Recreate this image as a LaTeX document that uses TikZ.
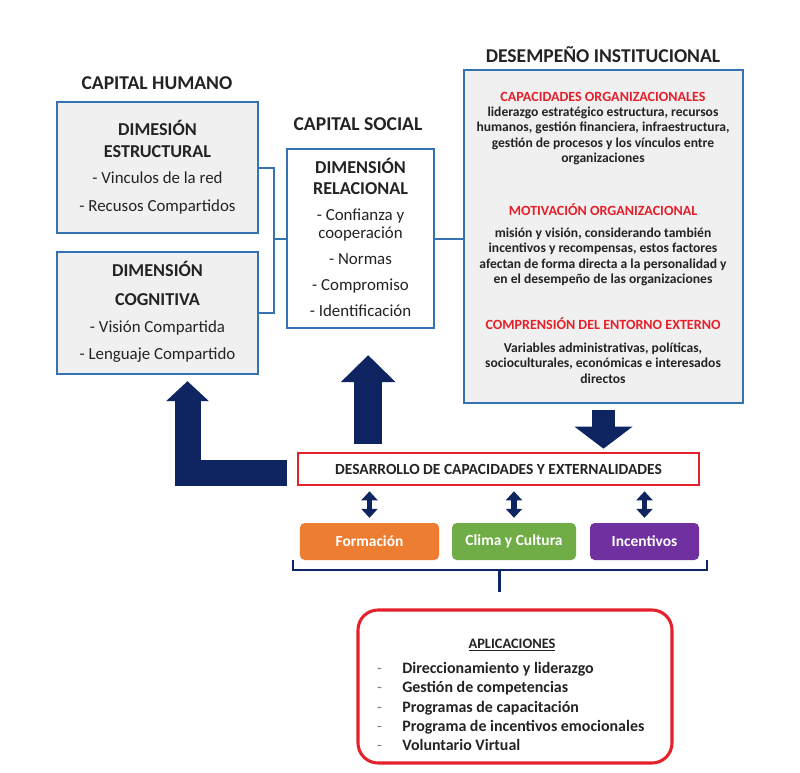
\documentclass[tikz,border=0pt]{standalone}
\usepackage{fontspec}
\setmainfont{Carlito}
\usepackage{tikz}
\usetikzlibrary{arrows.meta,positioning,calc}
\definecolor{boxblue}{RGB}{52,114,178}
\definecolor{boxgray}{RGB}{240,240,240}
\definecolor{navy}{RGB}{15,37,98}
\definecolor{hred}{RGB}{228,32,42}
\definecolor{ink}{RGB}{35,35,35}
\definecolor{forange}{RGB}{237,125,49}
\definecolor{cgreen}{RGB}{112,173,71}
\definecolor{ipurple}{RGB}{112,48,160}

\begin{document}
\begin{tikzpicture}[x=0.03cm, y=-0.03cm,
		dimbox/.style={draw=boxblue, line width=2.1pt, fill=boxgray, inner sep=0pt},
		title/.style={font=\bfseries\fontsize{16.7}{19}\selectfont, text=ink},
		head/.style={font=\bfseries\fontsize{15.5}{18.8}\selectfont, align=center, text=ink},
		item/.style={font=\fontsize{14.4}{15.5}\selectfont, align=center, text=ink},
		redhead/.style={font=\bfseries\fontsize{12}{14}\selectfont, text=hred},
		ditext/.style={font=\bfseries\fontsize{11.6}{13.1}\selectfont, align=center, text=ink},
		tagbox/.style={rounded corners=4pt, inner sep=0pt, minimum height=1.11cm, text=white, font=\bfseries\fontsize{13.2}{15}\selectfont},
		link/.style={draw=boxblue, line width=1.7pt},
		dbl/.style={draw=navy, line width=4.3pt, {Triangle[width=0.5cm,length=0.27cm,line width=0pt]}-{Triangle[width=0.5cm,length=0.27cm,line width=0pt]}, shorten <=0.15cm, shorten >=0.15cm},
		brace/.style={draw=navy, line width=2.1pt}]
	\useasboundingbox (0,0) rectangle (800,773);
	\node[title] (CH) at (157,83) {CAPITAL HUMANO};
	\node[title] (CS) at (358,124) {CAPITAL SOCIAL};
	\node[title] (DT) at (603,55) {DESEMPEÑO INSTITUCIONAL};
	\node[dimbox, minimum width=6.03cm, minimum height=3.93cm] (ES) at (157.5,167.5) {};
	\node[dimbox, minimum width=6.03cm, minimum height=3.66cm] (CO) at (157.5,313) {};
	\node[dimbox, fill=white, minimum width=4.41cm, minimum height=5.37cm] (RE) at (360.5,238.5) {};
	\node[dimbox, minimum width=8.37cm, minimum height=9.99cm] (DI) at (603.5,236.5) {};
	\node[head] (ESh) at (157.5,139) {DIMESIÓN\\ESTRUCTURAL};
	\node[item] (ESt) at (157.5,193) {- Vinculos de la red\\[8.4pt]- Recusos Compartidos};
	\node[head] (COh) at (157.5,283) {DIMENSIÓN\\[6pt]COGNITIVA};
	\node[item] (COt) at (157.5,341.5) {- Visión Compartida\\[7.5pt]- Lenguaje Compartido};
	\node[head, font=\bfseries\fontsize{15.5}{17.9}\selectfont] (REh) at (360.5,176.5) {DIMENSIÓN\\RELACIONAL};
	\node[item] (REt) at (360.5,262.5) {- Confianza y\\cooperación\\[6.5pt]- Normas\\[6.5pt]- Compromiso\\[6.5pt]- Identificación};
	\node[redhead] (DI1) at (603,97) {CAPACIDADES ORGANIZACIONALES};
	\node[ditext] (DI1t) at (603,136) {liderazgo estratégico estructura, recursos\\humanos, gestión financiera, infraestructura,\\gestión de procesos y los vínculos entre\\organizaciones};
	\node[redhead] (DI2) at (603,210) {MOTIVACIÓN ORGANIZACIONAL};
	\node[ditext] (DI2t) at (603,257) {misión y visión, considerando también\\incentivos y recompensas, estos factores\\afectan de forma directa a la personalidad y\\en el desempeño de las organizaciones};
	\node[redhead] (DI3) at (603,324) {COMPRENSIÓN DEL ENTORNO EXTERNO};
	\node[ditext] (DI3t) at (603,363) {Variables administrativas, políticas,\\socioculturales, económicas e interesados\\directos};
	\node[draw=hred, line width=2.3pt, fill=white, inner sep=0pt, minimum width=12.03cm, minimum height=0.96cm, text=ink, font=\bfseries\fontsize{13.2}{15}\selectfont] (DES) at (498.5,469) {DESARROLLO DE CAPACIDADES Y EXTERNALIDADES};
	\node[tagbox, fill=forange, minimum width=4.17cm] (FOR) at (369.5,541.5) {Formación};
	\node[tagbox, fill=cgreen, minimum width=3.72cm] (CLI) at (514,541.5) {Clima y Cultura};
	\node[tagbox, fill=ipurple, minimum width=3.27cm] (INC) at (644.5,541.5) {Incentivos};
	\node[draw=hred, line width=2.6pt, rounded corners=0.6cm, fill=white, inner sep=0pt, minimum width=9.42cm, minimum height=4.59cm] (APL) at (515,686.5) {};
	\node[font=\bfseries\fontsize{12.3}{14}\selectfont, text=ink] (APLh) at (512,645) {\underline{APLICACIONES}};
	\node[anchor=west, align=left, text=ink, font=\bfseries\fontsize{13.6}{16.4}\selectfont] (APLt) at (373,706.5) {\makebox[21.5pt][l]{\mdseries\color{gray}-}Direccionamiento y liderazgo\\\makebox[21.5pt][l]{\mdseries\color{gray}-}Gestión de competencias\\\makebox[21.5pt][l]{\mdseries\color{gray}-}Programas de capacitación\\\makebox[21.5pt][l]{\mdseries\color{gray}-}Programa de incentivos emocionales\\\makebox[21.5pt][l]{\mdseries\color{gray}-}Voluntario Virtual};
	\coordinate (J) at ($(ES.east)+(15,0)$);
	\draw[link] (ES.east) -- (J) |- (CO.east);
	\draw[link] (J |- RE.west) -- (RE.west);
	\draw[link] (RE.east) -- (RE.east -| DI.west);
	\coordinate (Lend) at ([xshift=0.9cm,yshift=-0.18cm]CO.south);
	\draw[navy, line width=0.78cm, line join=miter, -{Triangle[width=1.29cm,length=0.6cm,line width=0pt]}] ([xshift=-0.3cm,yshift=-0.12cm]DES.west) -| (Lend);
	\coordinate (M) at ([xshift=0.23cm]RE.south);
	\draw[navy, line width=0.84cm, -{Triangle[width=1.65cm,length=0.81cm,line width=0pt]}, shorten <=0.24cm, shorten >=0.78cm] (M |- DES.north) -- (M);
	\draw[navy, line width=0.69cm, -{Triangle[width=1.74cm,length=0.66cm,line width=0pt]}, shorten <=0.18cm, shorten >=0.09cm] (DI.south) -- (DI.south |- DES.north);
	\draw[dbl] (FOR.north) -- (FOR.north |- DES.south);
	\draw[dbl] (CLI.north) -- (CLI.north |- DES.south);
	\draw[dbl] (INC.north) -- (INC.north |- DES.south);
	\draw[brace] ([xshift=-0.21cm]FOR.south west) -- ++(0,10) -| ([xshift=0.24cm]INC.south east);
	\coordinate (B) at ($(FOR.south west)!0.5!(INC.south east)+(0,10)$);
	\draw[brace] (B) -- ++(0,22);
\end{tikzpicture}
\end{document}
